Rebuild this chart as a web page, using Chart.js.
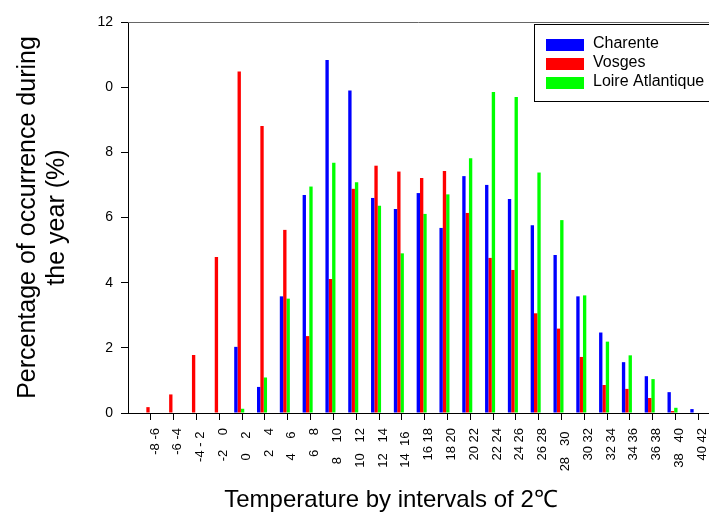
<!DOCTYPE html>
<html>
<head>
<meta charset="utf-8">
<title>Temperature occurrence by 2 °C class</title>
<script src="https://cdn.jsdelivr.net/npm/chart.js@4.4.0/dist/chart.umd.min.js"></script>
<style>
  html, body { margin: 0; padding: 0; background: #fff; }
</style>
</head>
<body>
<canvas id="chart" width="709" height="515"></canvas>
<script>
// 2 °C temperature classes (extra spaces keep the original label spacing)
const categories = [
  '-8 -6', '-6 -4', '-4 - 2 ', '-2    0', '0    2 ', '2    4', '4    6 ', '6    8',
  '8    10', '10   12', '12   14', '14  16 ', '16 18', '18 20', '20 22', '22 24',
  '24 26', '26 28', '28   30 ', '30 32', '32 34', '34 36', '36 38', '38   40', '40 42'
];

// % of the year spent in each class
const charente = [0, 0, 0, 0, 2.03, 0.80, 3.58, 6.69, 10.83, 9.90, 6.60, 6.26, 6.75,
  5.68, 7.27, 7.00, 6.57, 5.76, 4.85, 3.58, 2.47, 1.56, 1.13, 0.64, 0.12];
const vosges = [0.18, 0.57, 1.78, 4.79, 10.48, 8.81, 5.62, 2.36, 4.11, 6.88, 7.59, 7.41, 7.21,
  7.43, 6.14, 4.76, 4.39, 3.06, 2.59, 1.72, 0.86, 0.74, 0.46, 0.06, 0];
const loireAtlantique = [0, 0, 0, 0, 0.13, 1.09, 3.51, 6.95, 7.68, 7.08, 6.36, 4.90, 6.11,
  6.71, 7.82, 9.85, 9.70, 7.38, 5.92, 3.61, 2.19, 1.77, 1.04, 0.16, 0];

const yTickLabels = ['0', '2', '4', '6', '8', '0', '12'];

const xTitle = 'Temperature by intervals of 2℃';

const FONT = '"Liberation Sans", Arial, sans-serif';

// bars sit on integer x positions, tick marks a bit to the right of each group
const toPoints = values => values.map((v, i) => ({ x: i, y: v }));

// top frame line, boxed legend and the x title (drawn left of the axis centre)
const frameLegend = {
  id: 'frameLegend',
  afterDraw(chart) {
    const { ctx, chartArea } = chart;
    ctx.save();
    ctx.strokeStyle = '#666';
    ctx.lineWidth = 1;
    ctx.beginPath();
    ctx.moveTo(chartArea.left, chartArea.top + 0.5);
    ctx.lineTo(chartArea.right, chartArea.top + 0.5);
    ctx.stroke();

    // legend box (runs off the right edge)
    ctx.fillStyle = '#fff';
    ctx.fillRect(534, 24, 200, 78);
    ctx.strokeStyle = '#000';
    ctx.strokeRect(534.5, 24.5, 200, 77);

    ctx.font = '16px ' + FONT;
    ctx.textBaseline = 'alphabetic';
    ctx.textAlign = 'left';
    chart.data.datasets.forEach((ds, i) => {
      const y = 39 + i * 19;
      ctx.fillStyle = ds.backgroundColor;
      ctx.fillRect(546, y, 38, 12);
      ctx.fillStyle = '#000';
      ctx.fillText(ds.label, 593, y + 8.5);
    });

    ctx.font = '24px ' + FONT;
    ctx.textAlign = 'center';
    ctx.fillText(xTitle, 391, 507);
    ctx.restore();
  }
};

new Chart(document.getElementById('chart'), {
  type: 'bar',
  data: {
    datasets: [
      { label: 'Charente', data: toPoints(charente), backgroundColor: '#0000ff' },
      { label: 'Vosges', data: toPoints(vosges), backgroundColor: '#ff0000' },
      { label: 'Loire Atlantique', data: toPoints(loireAtlantique), backgroundColor: '#00ff00' }
    ]
  },
  options: {
    responsive: false,
    animation: false,
    layout: { padding: { top: 22, right: 0, bottom: 0, left: 0 } },
    datasets: { bar: { categoryPercentage: 0.44, barPercentage: 1 } },
    plugins: {
      legend: { display: false },
      tooltip: { enabled: false }
    },
    scales: {
      x: {
        type: 'linear',
        offset: false,
        min: -0.877,
        max: 24.6,
        afterBuildTicks(scale) {
          scale.ticks = categories.map((_, i) => ({ value: i + 0.13 }));
        },
        afterFit(scale) {
          scale.height = 102;
          scale.paddingLeft = 0;
          scale.paddingRight = 0;
        },
        grid: { offset: false, drawOnChartArea: false, drawTicks: true, tickLength: 7, color: '#000' },
        border: { color: '#000' },
        ticks: {
          autoSkip: false,
          minRotation: 90,
          maxRotation: 90,
          padding: 8,
          labelOffset: 4,
          color: '#000',
          font: { family: FONT, size: 13 },
          callback: (value, index) => categories[index]
        }
      },
      y: {
        min: 0,
        max: 12,
        afterFit(scale) {
          scale.width = 128;
        },
        grid: { drawOnChartArea: false, drawTicks: true, tickLength: 7, color: '#000' },
        border: { color: '#000' },
        ticks: {
          stepSize: 2,
          padding: 8,
          color: '#000',
          font: { family: FONT, size: 14 },
          callback: (value, index) => yTickLabels[index]
        },
        title: {
          display: true,
          text: ['Percentage of occurrence during', 'the year (%)'],
          color: '#000',
          font: { family: FONT, size: 25, lineHeight: 1.18 },
          padding: { top: 13, bottom: 0 }
        }
      }
    }
  },
  plugins: [frameLegend]
});
</script>
</body>
</html>
